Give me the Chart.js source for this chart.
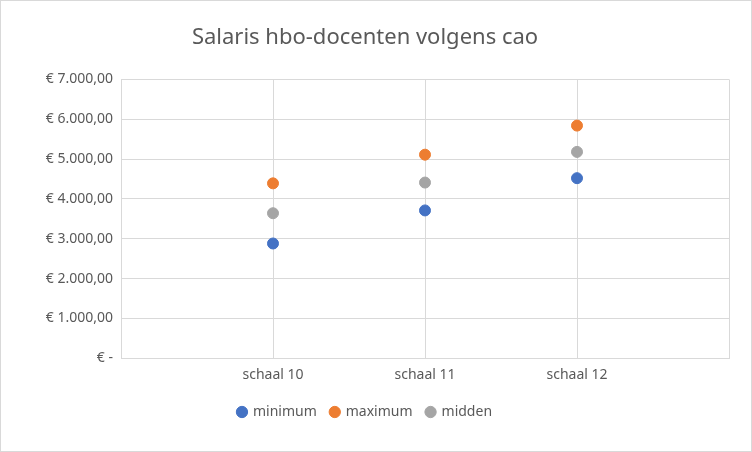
<!DOCTYPE html>
<html><head><meta charset="utf-8">
<script src="https://cdn.jsdelivr.net/npm/chart.js@4"></script>
<style>html,body{margin:0;padding:0;background:#fff}#w{position:absolute;left:0;top:0;width:750px;height:450px;border:1px solid #d9d9d9}</style>
</head><body><div id="w"><canvas id="c"></canvas></div>
<script>
const categories = ['', 'schaal 10', 'schaal 11', 'schaal 12', ''];
const minimum = [null, 2880, 3710, 4520, null];
const maximum = [null, 4390, 5110, 5840, null];
const midden = [null, 3640, 4410, 5180, null];
const F = "'Noto Sans', 'Open Sans', sans-serif";
function ds(label, data, color){return {label, data, backgroundColor:color, borderColor:color, pointRadius:5.5, pointHoverRadius:5.5, showLine:false, pointStyle:'circle'};}
new Chart(document.getElementById('c'), {
  type:'line',
  data:{labels:categories, datasets:[ds('minimum',minimum,'#4472c4'), ds('maximum',maximum,'#ed7d31'), ds('midden',midden,'#a5a5a5')]},
  options:{responsive:true, maintainAspectRatio:false, animation:false,
    layout:{padding:{left:0,right:22,top:10,bottom:22}},
    plugins:{
      title:{display:true, text:'Salaris hbo-docenten volgens cao', color:'#595959', font:{family:F, size:22, weight:'normal'}, padding:{top:14,bottom:28}},
      legend:{position:'bottom', labels:{usePointStyle:true, boxWidth:8, boxHeight:8, padding:14, color:'#595959', font:{family:F,size:14}}},
      tooltip:{enabled:false}
    },
    scales:{
      x:{offset:false, grid:{color:'#d9d9d9', drawTicks:false}, border:{color:'#d9d9d9'}, ticks:{color:'#595959', font:{family:F,size:14}, padding:8}},
      y:{min:0, max:7000, afterFit:s=>{s.width=120;}, grid:{color:'#d9d9d9', drawTicks:false}, border:{display:false},
        ticks:{stepSize:1000, padding:8, color:'#595959', font:{family:F,size:14},
          callback:v=> v===0 ? '€ -' : '€ ' + (v/1000).toFixed(0) + '.000,00'}}
    }
  }
});
</script></body></html>
